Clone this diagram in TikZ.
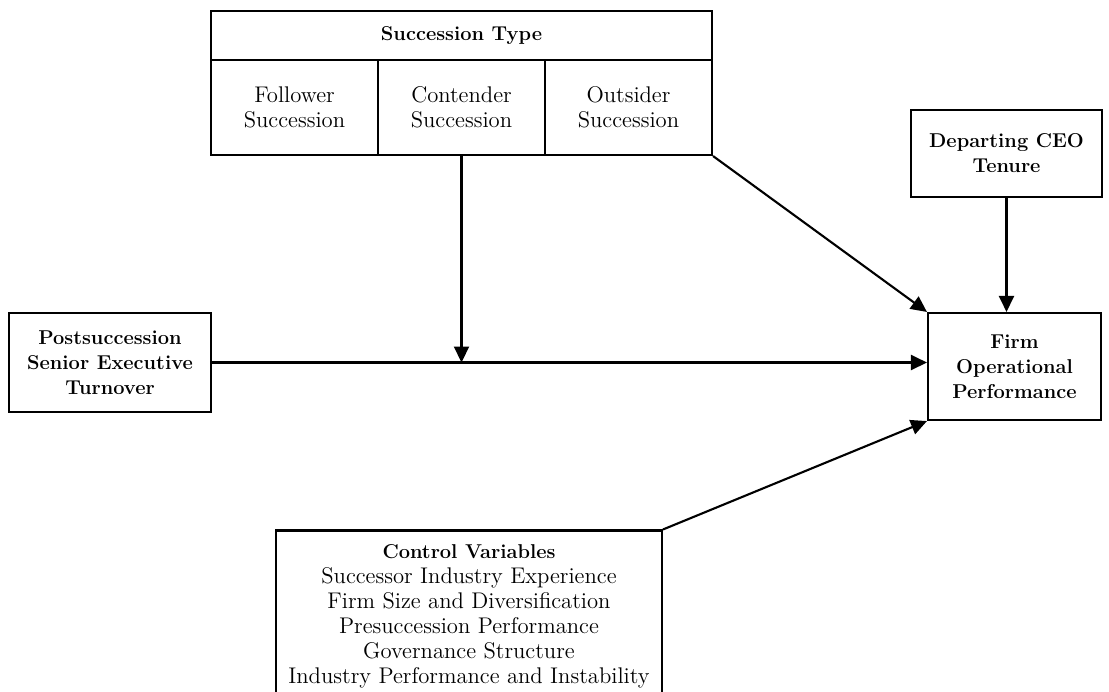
\documentclass[tikz,border=0pt]{standalone}
\usetikzlibrary{arrows.meta,positioning}

\newcommand{\headfont}{\fontsize{11.4}{14.2}\selectfont\bfseries}

\begin{document}
\begin{tikzpicture}[x=0.02cm,y=-0.02cm,font=\fontsize{12.9}{14.2}\selectfont,
    box/.style={draw,line width=1.2pt,align=center,inner sep=0pt},
    headbox/.style={box,font=\headfont},
    link/.style={line width=1.2pt,-{Triangle[length=0.32cm,width=0.3cm]}}]
  \useasboundingbox (0,0) rectangle (1109,691);

  % succession type table
  \node[headbox,minimum width=10.02cm,minimum height=0.98cm] (typehead) at (461.5,35.5) {Succession Type};
  \node[box,minimum width=3.34cm,minimum height=1.9cm] (follower) at (294.5,107.5) {Follower\\Succession};
  \node[box,minimum width=3.34cm,minimum height=1.9cm] (contender) at (461.5,107.5) {Contender\\Succession};
  \node[box,minimum width=3.34cm,minimum height=1.9cm] (outsider) at (628.5,107.5) {Outsider\\Succession};

  \node[headbox,minimum width=3.82cm,minimum height=1.74cm] (tenure) at (1006.5,153.5) {Departing CEO\\Tenure};
  \node[headbox,minimum width=3.46cm,minimum height=2.14cm] (firm) at (1014.5,366.5) {Firm\\Operational\\Performance};
  \node[headbox,minimum width=4.04cm,minimum height=1.98cm] (turnover) at (110,362.5) {Postsuccession\\Senior Executive\\Turnover};
  \node[box,minimum width=7.72cm,minimum height=3.42cm] (controls) at (469,616) {{\headfont Control Variables}\\Successor Industry Experience\\Firm Size and Diversification\\Presuccession Performance\\Governance Structure\\Industry Performance and Instability};

  % links
  \coordinate (moderate) at (contender.south |- turnover.east);
  \draw[link] (turnover.east) -- (turnover.east -| firm.west);
  \draw[link] (contender.south) -- (moderate);
  \draw[link] (outsider.south east) -- (firm.north west);
  \draw[link] (tenure.south) -- (tenure.south |- firm.north);
  \draw[link] (controls.north east) -- (firm.south west);
\end{tikzpicture}
\end{document}
